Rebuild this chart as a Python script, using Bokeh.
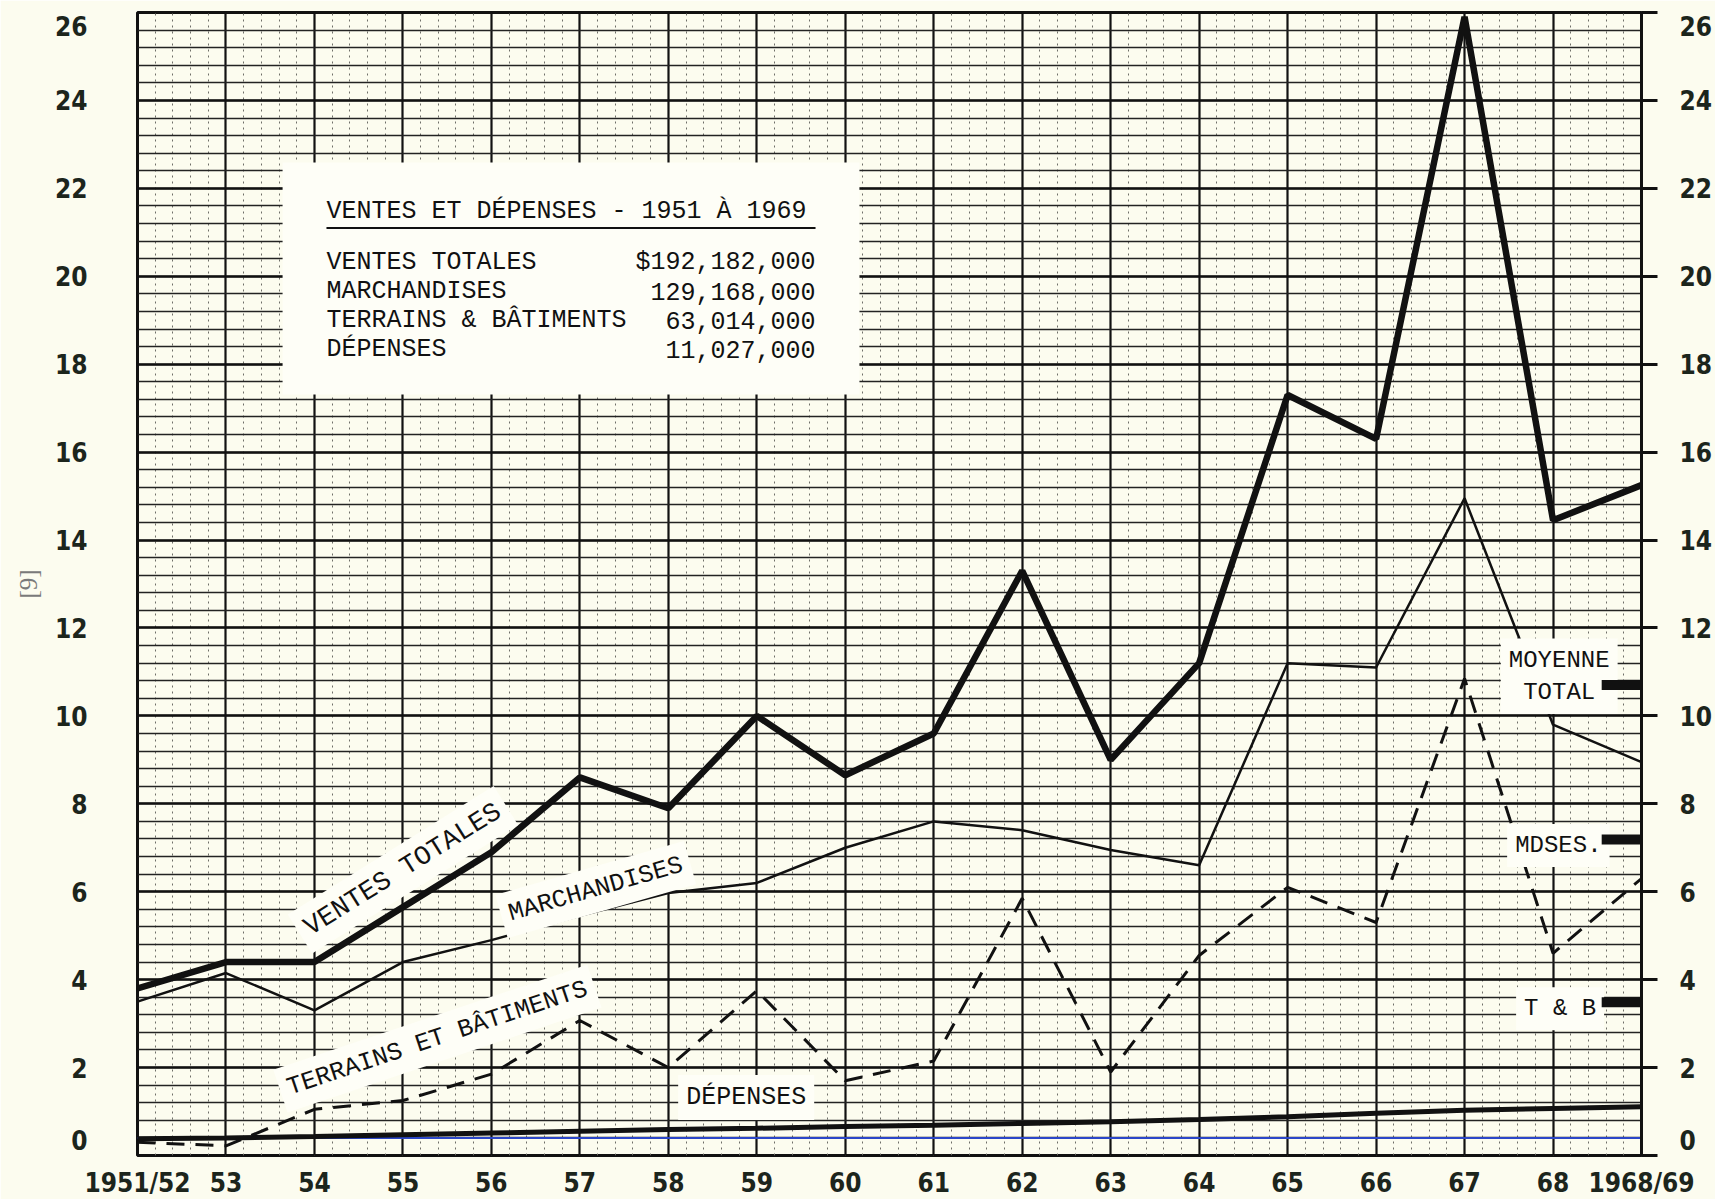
import math
import numpy as np
from bokeh.plotting import figure
from bokeh.models import FixedTicker, LinearAxis, Range1d, Title
from bokeh.core.properties import value
from bokeh.embed import file_html
from bokeh.resources import INLINE

# ---------------- data ----------------
years = ["1951/52", "53", "54", "55", "56", "57", "58", "59", "60", "61",
         "62", "63", "64", "65", "66", "67", "68", "1968/69"]
ventes_totales = [3.8, 4.4, 4.4, 5.65, 6.9, 8.6, 7.9, 10.0, 8.65, 9.6,
                  13.3, 9.0, 11.2, 17.3, 16.3, 25.9, 14.45, 15.25]
marchandises = [3.5, 4.15, 3.3, 4.4, 4.9, 5.45, 5.97, 6.2, 7.0, 7.6,
                7.4, 6.95, 6.6, 11.2, 11.1, 14.95, 9.8, 8.95]
terrains_batiments = [0.3, 0.22, 1.05, 1.25, 1.85, 3.07, 2.0, 3.75, 1.7, 2.15,
                      5.85, 1.9, 4.55, 6.1, 5.3, 10.85, 4.6, 6.3]
depenses = [0.38, 0.40, 0.43, 0.47, 0.51, 0.55, 0.59, 0.62, 0.66, 0.69,
            0.73, 0.77, 0.82, 0.88, 0.96, 1.03, 1.07, 1.11]
y_ticks = list(range(0, 27, 2))

legend_title = "VENTES ET DÉPENSES - 1951 À  1969"
legend_names = ["VENTES TOTALES", "MARCHANDISES", "TERRAINS & BÂTIMENTS", "DÉPENSES"]
legend_values = ["$192,182,000", "129,168,000", "63,014,000", "11,027,000"]

x = list(range(len(years)))

BG = "#fcfcef"
INK = "#111111"
LABEL_INK = "#1c251c"
MONO = "Liberation Mono"
NARROW = "Liberation Sans Narrow, DejaVu Sans Condensed, sans-serif"

p = figure(frame_width=1504, frame_height=1143,
           min_border_left=137, min_border_right=72,
           min_border_top=12, min_border_bottom=43,
           x_range=Range1d(0, len(years) - 1), y_range=Range1d(0, 26),
           output_backend="svg", toolbar_location=None)
p.background_fill_color = BG
p.border_fill_color = BG
p.outline_line_color = INK
p.outline_line_width = 3

# tick-label positions: end labels sit slightly inside the frame, as on the original
y_label_pos = [0.35] + y_ticks[1:-1] + [25.7]
y_label_text = {pos: str(t) for pos, t in zip(y_label_pos, y_ticks)}


def style_labels(ax):
    ax.major_label_text_font = NARROW
    ax.major_label_text_font_style = "bold"
    ax.major_label_text_font_size = "26px"
    ax.major_label_text_color = LABEL_INK


# ---------- axes ----------
p.xaxis.ticker = FixedTicker(ticks=x)
p.xaxis.major_label_overrides = {i: s for i, s in enumerate(years)}
p.yaxis.ticker = FixedTicker(ticks=y_label_pos)
p.yaxis.major_label_overrides = y_label_text
for ax in (p.xaxis[0], p.yaxis[0]):
    ax.axis_line_color = None
    ax.major_tick_line_color = None
    ax.minor_tick_line_color = None
    style_labels(ax)
p.yaxis.major_label_standoff = 44
p.xaxis.major_label_standoff = 6

# right side: tick marks (inner axis) + labels (outer axis)
r_ticks = LinearAxis(ticker=FixedTicker(ticks=y_ticks),
                     major_label_overrides={t: "" for t in y_ticks})
r_ticks.axis_line_color = INK
r_ticks.axis_line_width = 3
r_ticks.major_tick_line_color = INK
r_ticks.major_tick_line_width = 3
r_ticks.major_tick_out = 16
r_ticks.major_tick_in = 0
r_ticks.minor_tick_line_color = None
r_ticks.major_label_standoff = 0
p.add_layout(r_ticks, "right")

r_labels = LinearAxis(ticker=FixedTicker(ticks=y_label_pos), major_label_overrides=y_label_text)
r_labels.axis_line_color = None
r_labels.major_tick_line_color = None
r_labels.minor_tick_line_color = None
r_labels.major_tick_out = 0
r_labels.major_tick_in = 0
r_labels.major_label_standoff = 22
style_labels(r_labels)
p.add_layout(r_labels, "right")

# page number at the far left
p.add_layout(Title(text="[9]", align="center", text_font="Liberation Serif",
                   text_font_size="25px", text_font_style="normal",
                   text_color="#7a7a7a", standoff=20, offset=-10), "left")

# ---------- graph-paper grid ----------
p.xgrid.ticker = FixedTicker(ticks=x, minor_ticks=list(np.round(np.arange(0, 17.001, 0.2), 2)))
p.xgrid.grid_line_color = INK
p.xgrid.grid_line_width = 2.2
p.xgrid.minor_grid_line_color = "#6f6f68"
p.xgrid.minor_grid_line_width = 1
p.xgrid.minor_grid_line_dash = "2 4"
p.ygrid.ticker = FixedTicker(ticks=y_ticks, minor_ticks=list(np.round(np.arange(0, 26.001, 0.4), 2)))
p.ygrid.grid_line_color = INK
p.ygrid.grid_line_width = 2.6
p.ygrid.minor_grid_line_color = "#222222"
p.ygrid.minor_grid_line_width = 1.7

# coloured scan line near the base
p.segment(x0=[0], x1=[len(years) - 1], y0=[0.4], y1=[0.4], line_color="#2b46c8", line_width=2)

# ---------- legend panel ----------
p.quad(left=[1.64], right=[8.16], bottom=[17.31], top=[22.59], fill_color="#fefef7", line_color=None)
p.text(x=[2.136], y=[21.47], text=[legend_title], text_font=value(MONO), text_font_size="25px",
       text_baseline="middle", text_color=INK)
p.segment(x0=[2.136], x1=[7.664], y0=[21.1], y1=[21.1], line_color=INK, line_width=2)
row_y = [20.32, 19.66, 19.0, 18.34]
p.text(x=[2.136] * 4, y=row_y, text=legend_names, text_font=value(MONO), text_font_size="25px",
       text_baseline="middle", text_color=INK)
p.text(x=[7.664] * 4, y=row_y, text=legend_values, text_font=value(MONO), text_font_size="25px",
       text_baseline="middle", text_align="right", text_color=INK)

# ---------- series ----------
p.line(x, depenses, line_color=INK, line_width=5)
p.line(x, terrains_batiments, line_color=INK, line_width=3, line_dash="18 11")
p.line(x, marchandises, line_color=INK, line_width=2.5)
p.line(x, ventes_totales, line_color=INK, line_width=6.5)

# ---------- pasted-on strip labels ----------
strip = dict(text_font=value(MONO), text_align="center", text_baseline="middle", text_color=INK,
             background_fill_color="#fefef7", padding=8)
p.text(x=[3.0], y=[6.5], text=["VENTES TOTALES"], angle=[math.radians(32)], text_font_size="27px", **strip)
p.text(x=[5.18], y=[6.05], text=["MARCHANDISES"], angle=[math.radians(16)], text_font_size="25px", **strip)
p.text(x=[3.39], y=[2.66], text=["TERRAINS ET BÂTIMENTS"], angle=[math.radians(18.5)], text_font_size="25px", **strip)
p.text(x=[6.88], y=[1.32], text=["DÉPENSES"], text_font_size="25px", **strip)

# ---------- averages on the right ----------
n = len(years)
averages = [sum(ventes_totales) / n, sum(marchandises) / n, sum(terrains_batiments) / n]
p.text(x=[16.07], y=[10.9], text=["MOYENNE\nTOTAL"], text_font_size="24px", **strip)
p.text(x=[16.06], y=[7.05], text=["MDSES."], text_font_size="24px", **strip)
p.text(x=[16.08], y=[3.34], text=["T & B"], text_font_size="24px", **strip)
p.segment(x0=[16.55] * 3, x1=[n - 1] * 3, y0=averages, y1=averages, line_color=INK, line_width=10)

html = file_html(p, INLINE)
html = html.replace("<body>", '<body style="background-color:#fcfcef;">', 1)
open("out.html", "w").write(html)
